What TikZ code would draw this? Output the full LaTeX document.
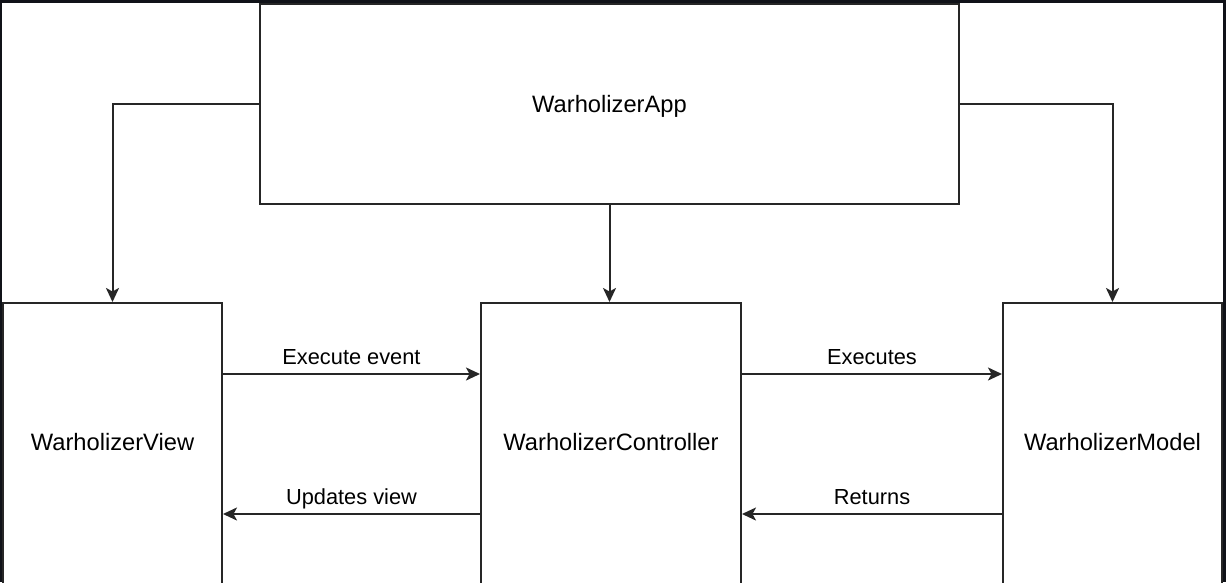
\documentclass[tikz,border=0pt]{standalone}
\usepackage{fontspec}
\setmainfont{Liberation Sans}
\usetikzlibrary{arrows.meta}
\definecolor{frame}{HTML}{101218}
\definecolor{edge}{HTML}{262626}
\tikzset{
  block/.style={draw=edge, line width=2pt, fill=white, rectangle, inner sep=0pt,
                font=\fontsize{23.7}{26}\selectfont, text height=17pt, text depth=0pt},
  tall/.style={block, minimum height=284pt, text depth=6pt},
  link/.style={draw=edge, line width=2pt,
               -{Stealth[length=14pt, width=13pt, inset=3.5pt]}},
  tag/.style={font=\fontsize{21.8}{24}\selectfont, anchor=base, yshift=10pt}
}

\begin{document}
\begin{tikzpicture}[x=1pt, y=-1pt]
\useasboundingbox (0,0) rectangle (1226,582);
\fill[frame] (0,0) rectangle (1226,582);
\fill[white] (2,3) rectangle (1223,590);
\node[block, minimum width=699pt, minimum height=200pt] (app) at (609.5,104) {WarholizerApp};
\node[tall, minimum width=219pt] (view) at (112.5,445) {WarholizerView};
\node[tall, minimum width=260pt] (ctrl) at (611,445) {WarholizerController};
\node[tall, minimum width=219pt] (model) at (1112.5,445) {WarholizerModel};
\fill[frame] (1223,0) rectangle (1226,582);
\draw[link] (app.west) -| (view.north);
\draw[link] (app.south) -- (app.south |- ctrl.north);
\draw[link] (app.east) -| (model.north);
\draw[link] (view.east |- 0,374) -- node[tag] {Execute event} (ctrl.west |- 0,374);
\draw[link] (ctrl.west |- 0,514) -- node[tag] {Updates view} (view.east |- 0,514);
\draw[link] (ctrl.east |- 0,374) -- node[tag] {Executes} (model.west |- 0,374);
\draw[link] (model.west |- 0,514) -- node[tag] {Returns} (ctrl.east |- 0,514);
\end{tikzpicture}
\end{document}
